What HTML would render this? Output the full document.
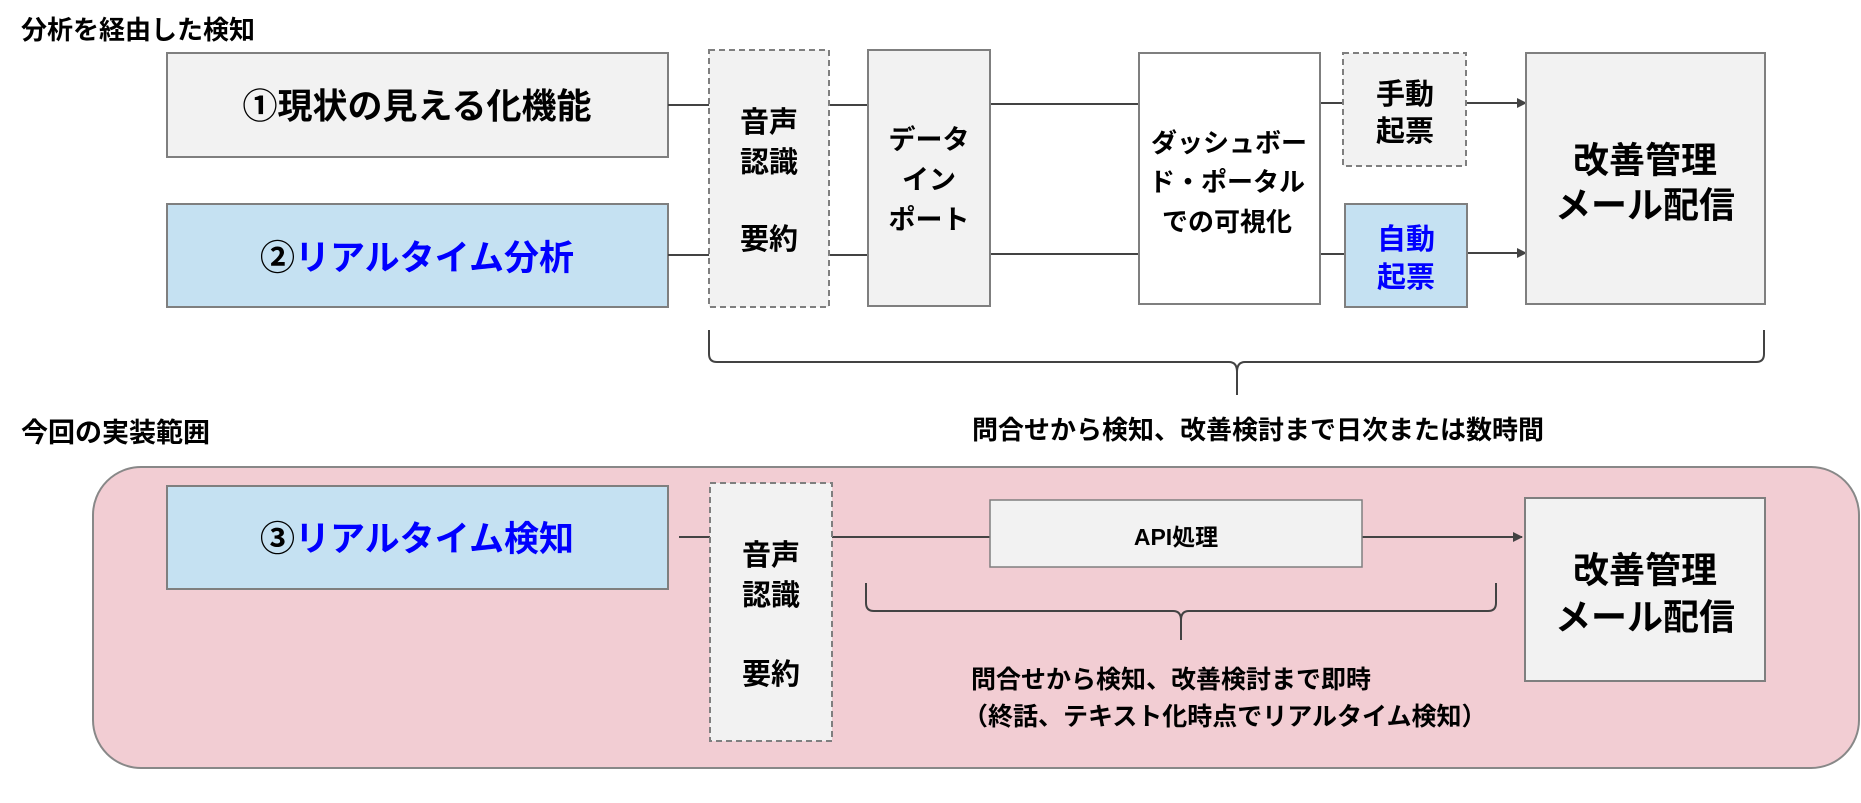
<!DOCTYPE html>
<html><head><meta charset="utf-8"><style>
html,body{margin:0;padding:0;background:#fff;}
svg{display:block;}
text{font-family:"Liberation Sans","Noto Sans CJK JP",sans-serif;font-weight:bold;fill:#000;}
</style></head><body>
<svg width="1861" height="803" viewBox="0 0 1861 803" xmlns="http://www.w3.org/2000/svg">
<defs><marker id="ah" markerWidth="10" markerHeight="10" refX="9" refY="5" orient="auto" markerUnits="userSpaceOnUse"><path d="M0,0 L10,5 L0,10 z" fill="#434343"/></marker></defs>

<text x="21" y="30" font-size="26" dominant-baseline="central">分析を経由した検知</text>

<rect x="167" y="53" width="501" height="104" fill="#f2f2f2" stroke="#7f7f7f" stroke-width="2"/>
<text x="417" y="107" font-size="35" text-anchor="middle" dominant-baseline="central">①現状の見える化機能</text>
<rect x="167" y="204" width="501" height="103" fill="#c5e1f2" stroke="#7f7f7f" stroke-width="2"/>
<text x="417" y="258" font-size="35" text-anchor="middle" dominant-baseline="central"><tspan>②</tspan><tspan fill="#0000ff">リアルタイム分析</tspan></text>

<g stroke="#434343" stroke-width="2" fill="none">
<line x1="668" y1="105" x2="709" y2="105"/>
<line x1="668" y1="255" x2="709" y2="255"/>
<line x1="829" y1="105" x2="868" y2="105"/>
<line x1="829" y1="255" x2="868" y2="255"/>
<line x1="990" y1="104" x2="1139" y2="104"/>
<line x1="990" y1="254" x2="1139" y2="254"/>
<line x1="1320" y1="103" x2="1343" y2="103"/>
<line x1="1320" y1="254" x2="1345" y2="254"/>
<line x1="1466" y1="103" x2="1526" y2="103" marker-end="url(#ah)"/>
<line x1="1467" y1="253" x2="1526" y2="253" marker-end="url(#ah)"/>
<path d="M709,330 L709,354 Q709,362 717,362 L1229,362 Q1237,362 1237,372 L1237,395 M1237,372 Q1237,362 1245,362 L1756,362 Q1764,362 1764,354 L1764,330"/>
</g>

<rect x="709" y="50" width="120" height="257" fill="#f2f2f2" stroke="#7f7f7f" stroke-width="2" stroke-dasharray="6,4"/>
<text x="769" y="123" font-size="29" text-anchor="middle" dominant-baseline="central">音声</text>
<text x="769" y="163" font-size="29" text-anchor="middle" dominant-baseline="central">認識</text>
<text x="769" y="240" font-size="29" text-anchor="middle" dominant-baseline="central">要約</text>

<rect x="868" y="50" width="122" height="256" fill="#f2f2f2" stroke="#7f7f7f" stroke-width="2"/>
<text x="929" y="140" font-size="27" text-anchor="middle" dominant-baseline="central">データ</text>
<text x="929" y="180" font-size="27" text-anchor="middle" dominant-baseline="central">イン</text>
<text x="929" y="220" font-size="27" text-anchor="middle" dominant-baseline="central">ポート</text>

<rect x="1139" y="53" width="181" height="251" fill="#ffffff" stroke="#7f7f7f" stroke-width="2"/>
<text x="1229" y="143" font-size="26" text-anchor="middle" dominant-baseline="central">ダッシュボー</text>
<text x="1227" y="182" font-size="26" text-anchor="middle" dominant-baseline="central">ド・ポータル</text>
<text x="1227" y="222" font-size="26" text-anchor="middle" dominant-baseline="central">での可視化</text>

<rect x="1343" y="53" width="123" height="113" fill="#f2f2f2" stroke="#7f7f7f" stroke-width="2" stroke-dasharray="6,4"/>
<text x="1405" y="95" font-size="29" text-anchor="middle" dominant-baseline="central">手動</text>
<text x="1405" y="132" font-size="29" text-anchor="middle" dominant-baseline="central">起票</text>
<rect x="1345" y="204" width="122" height="103" fill="#c5e1f2" stroke="#7f7f7f" stroke-width="2"/>
<text x="1406" y="240" font-size="29" text-anchor="middle" dominant-baseline="central" style="fill:#0000ff">自動</text>
<text x="1406" y="278" font-size="29" text-anchor="middle" dominant-baseline="central" style="fill:#0000ff">起票</text>

<rect x="1526" y="53" width="239" height="251" fill="#f2f2f2" stroke="#7f7f7f" stroke-width="2"/>
<text x="1645" y="160" font-size="36" text-anchor="middle" dominant-baseline="central">改善管理</text>
<text x="1645" y="205" font-size="36" text-anchor="middle" dominant-baseline="central">メール配信</text>

<text x="1258" y="430" font-size="26" text-anchor="middle" dominant-baseline="central">問合せから検知、改善検討まで日次または数時間</text>

<text x="21" y="433" font-size="27" dominant-baseline="central">今回の実装範囲</text>

<rect x="93" y="467" width="1766" height="301" rx="48" ry="48" fill="#f2cdd3" stroke="#888" stroke-width="2"/>

<rect x="167" y="486" width="501" height="103" fill="#c5e1f2" stroke="#7f7f7f" stroke-width="2"/>
<text x="417" y="539" font-size="35" text-anchor="middle" dominant-baseline="central"><tspan>③</tspan><tspan fill="#0000ff">リアルタイム検知</tspan></text>

<g stroke="#434343" stroke-width="2" fill="none">
<line x1="679" y1="537" x2="710" y2="537"/>
<line x1="832" y1="537" x2="990" y2="537"/>
<line x1="1362" y1="537" x2="1522" y2="537" marker-end="url(#ah)"/>
<path d="M866,583 L866,603 Q866,611 874,611 L1173,611 Q1181,611 1181,620 L1181,640 M1181,620 Q1181,611 1189,611 L1488,611 Q1496,611 1496,603 L1496,583"/>
</g>

<rect x="710" y="483" width="122" height="258" fill="#f2f2f2" stroke="#7f7f7f" stroke-width="2" stroke-dasharray="6,4"/>
<text x="771" y="556" font-size="29" text-anchor="middle" dominant-baseline="central">音声</text>
<text x="771" y="596" font-size="29" text-anchor="middle" dominant-baseline="central">認識</text>
<text x="771" y="675" font-size="29" text-anchor="middle" dominant-baseline="central">要約</text>

<rect x="990" y="500" width="372" height="67" fill="#f2f2f2" stroke="#7f7f7f" stroke-width="1.5"/>
<text x="1176" y="537" font-size="23" text-anchor="middle" dominant-baseline="central">API処理</text>

<rect x="1525" y="498" width="240" height="183" fill="#f2f2f2" stroke="#7f7f7f" stroke-width="2"/>
<text x="1645" y="570" font-size="36" text-anchor="middle" dominant-baseline="central">改善管理</text>
<text x="1645" y="617" font-size="36" text-anchor="middle" dominant-baseline="central">メール配信</text>

<text x="971" y="680" font-size="25" dominant-baseline="central">問合せから検知、改善検討まで即時</text>
<text x="963" y="717" font-size="25" dominant-baseline="central">（終話、テキスト化時点でリアルタイム検知）</text>
</svg>
</body></html>
